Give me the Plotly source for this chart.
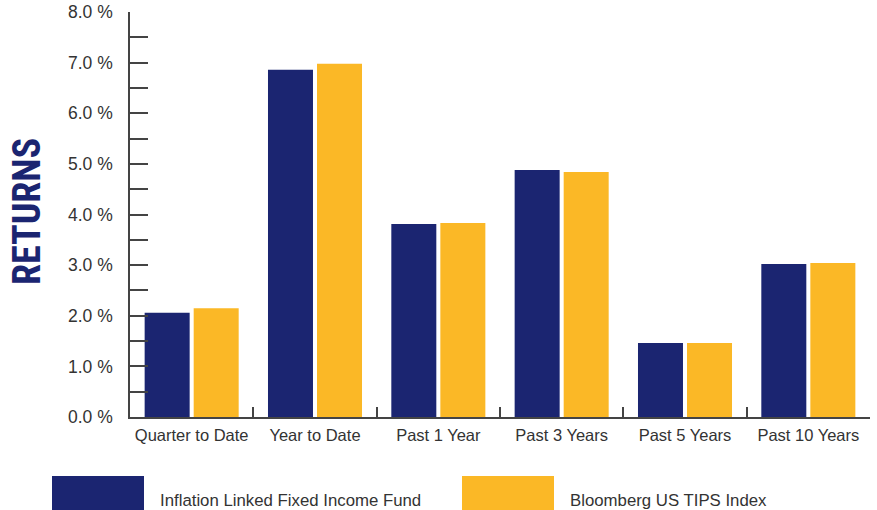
import plotly.graph_objects as go

categories = ["Quarter to Date", "Year to Date", "Past 1 Year", "Past 3 Years", "Past 5 Years", "Past 10 Years"]
fund_values = [2.06, 6.86, 3.81, 4.88, 1.46, 3.02]
index_values = [2.15, 6.98, 3.83, 4.84, 1.46, 3.04]
series_names = ["Inflation Linked Fixed Income Fund", "Bloomberg US TIPS Index"]
y_tick_vals = [0, 1, 2, 3, 4, 5, 6, 7, 8]
y_tick_text = ["0.0 %", "1.0 %", "2.0 %", "3.0 %", "4.0 %", "5.0 %", "6.0 %", "7.0 %", "8.0 %"]

NAVY = "#1b2571"
GOLD = "#fbb826"
TXT = "#333333"
FONT = "Liberation Sans, Arial, Helvetica, sans-serif"

fig = go.Figure()
fig.add_trace(go.Bar(x=categories, y=fund_values, name=series_names[0], marker=dict(color=NAVY, line=dict(width=0))))
fig.add_trace(go.Bar(x=categories, y=index_values, name=series_names[1], marker=dict(color=GOLD, line=dict(width=0))))

W, H = 877, 510
L, R, T, B = 130, 7, 12, 93
pw = W - L - R
ph = H - T - B

def px_x(p):
    return (p - L) / pw

def px_y(p):
    return (H - B - p) / ph

fig.update_layout(
    width=W, height=H,
    margin=dict(l=L, r=R, t=T, b=B, autoexpand=False),
    paper_bgcolor="white", plot_bgcolor="white",
    barmode="group", bargap=0.205, bargroupgap=0.082,
    showlegend=False,
    font=dict(family=FONT, color=TXT, size=16.5),
)
fig.update_xaxes(
    showline=True, linecolor="#444444", linewidth=2,
    ticks="inside", ticklen=10, tickwidth=1.5, tickcolor="#444444",
    tickson="boundaries", showgrid=False, zeroline=False,
    tickangle=0, automargin=False,
    tickfont=dict(size=16.5, color=TXT, family=FONT), ticklabelstandoff=2,
)
fig.update_yaxes(
    range=[0, 8], showline=True, linecolor="#444444", linewidth=1.5,
    tickvals=y_tick_vals, ticktext=y_tick_text, automargin=False,
    ticks="inside", ticklen=18, tickwidth=1.5, tickcolor="#444444",
    minor=dict(dtick=0.5, ticks="inside", ticklen=18, tickwidth=1.5, tickcolor="#444444", showgrid=False),
    showgrid=False, zeroline=False,
    tickfont=dict(size=17.5, color=TXT, family=FONT), ticklabelstandoff=12,
)

# Legend drawn as large swatches with labels
legend_items = [(NAVY, series_names[0], 52, 144, 158), (GOLD, series_names[1], 462, 554, 568)]
for color, label, x0, x1, tx in legend_items:
    fig.add_shape(type="rect", xref="paper", yref="paper",
                  x0=px_x(x0), x1=px_x(x1), y0=px_y(476), y1=px_y(512),
                  fillcolor=color, line=dict(width=0), layer="above")
    fig.add_annotation(xref="paper", yref="paper", x=px_x(tx), y=px_y(500),
                       text=label, showarrow=False, xanchor="left", yanchor="middle",
                       font=dict(size=16.8, color=TXT, family=FONT))

fig.add_annotation(xref="paper", yref="paper", x=px_x(27), y=px_y(212),
                   text="<b>RETURNS</b>", showarrow=False, textangle=-90,
                   xanchor="center", yanchor="middle",
                   font=dict(size=38, color=NAVY, family="Liberation Sans Narrow, Arial Narrow, Roboto Condensed, sans-serif"))

fig.write_html("out.html", config={"displayModeBar": False},
               post_script="document.body.style.margin='0';document.body.style.overflow='hidden';")
